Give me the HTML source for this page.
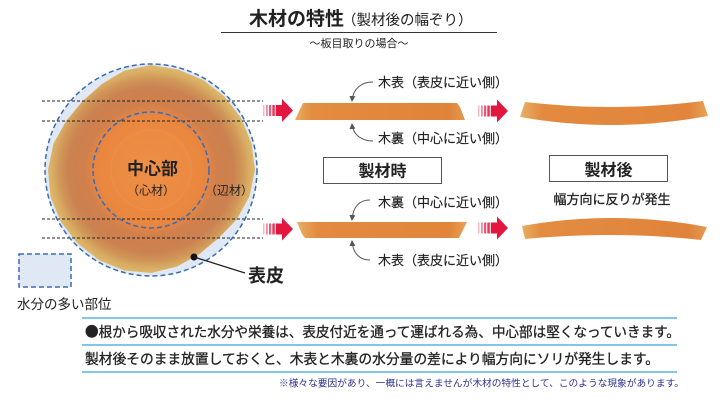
<!DOCTYPE html>
<html><head><meta charset="utf-8"><style>
html,body{margin:0;padding:0;background:#fff;}
svg{display:block;}
text{font-family:"Liberation Sans","Noto Sans CJK JP",sans-serif;fill:#222;}
</style></head><body>
<svg width="720" height="405" viewBox="0 0 720 405" xmlns="http://www.w3.org/2000/svg">
<defs>
<radialGradient id="wood" cx="151" cy="170" r="105" gradientUnits="userSpaceOnUse">
<stop offset="0" stop-color="#ee9048"/>
<stop offset="0.5" stop-color="#ea873e"/>
<stop offset="0.56" stop-color="#e08446"/>
<stop offset="0.63" stop-color="#d0804c"/>
<stop offset="0.78" stop-color="#cb8150"/>
<stop offset="0.87" stop-color="#d09658"/>
<stop offset="0.93" stop-color="#d8ab62"/>
<stop offset="1" stop-color="#ddbc70"/>
</radialGradient>
<linearGradient id="pl1" x1="0" x2="1" y1="0" y2="0">
<stop offset="0" stop-color="#e8ae5e"/>
<stop offset="0.1" stop-color="#e38c42"/>
<stop offset="0.9" stop-color="#e0833a"/>
<stop offset="1" stop-color="#e39a52"/>
</linearGradient>
<linearGradient id="pl2" x1="0" x2="1" y1="0" y2="0">
<stop offset="0" stop-color="#e6b066"/>
<stop offset="0.12" stop-color="#e38a40"/>
<stop offset="0.9" stop-color="#e2853b"/>
<stop offset="1" stop-color="#e6a458"/>
</linearGradient>
<g id="arr">
<rect x="0" y="-5.5" width="1.5" height="11" fill="#e3163f" opacity=".3"/>
<rect x="3" y="-5.5" width="1.8" height="11" fill="#e3163f" opacity=".5"/>
<rect x="6" y="-5.5" width="2.2" height="11" fill="#e3163f" opacity=".7"/>
<rect x="9.3" y="-5.5" width="2.5" height="11" fill="#e3163f" opacity=".85"/>
<rect x="12.8" y="-5.5" width="7" height="11" fill="#e3163f"/>
<polygon points="19,-11.5 30,0 19,11.5" fill="#e3163f"/>
</g>
<marker id="ah" markerWidth="6" markerHeight="6" refX="5" refY="3" orient="auto" markerUnits="userSpaceOnUse">
<path d="M0,0 L6,3 L0,6 Z" fill="#555"/>
</marker>
</defs>

<!-- Title -->
<text x="249" y="25" font-size="19" font-weight="bold">木材の特性</text>
<text x="342" y="25" font-size="14.5">（製材後の幅ぞり）</text>
<line x1="221" y1="32.5" x2="497" y2="32.5" stroke="#333" stroke-width="1"/>
<text x="359" y="47" font-size="11" text-anchor="middle">～板目取りの場合～</text>

<!-- Log -->
<circle cx="151" cy="170" r="106" fill="#dfe8f4"/>
<path d="M255,170 L251.5,143.1 L241.1,118 L224.5,96.5 L203,79.9 L177.9,69.5 L151,65 L124.3,70.5 L101.5,84.3 L82.4,101.4 L66.1,121 L53.4,143.8 L48,170 L50.5,196.9 L60.9,222 L77.5,243.5 L99,260.1 L124.1,270.5 L151,273 L176.9,266.6 L199.5,254 L218.9,237.9 L236.7,219.5 L249.5,196.4 Z" fill="url(#wood)"/>
<circle cx="151" cy="170" r="74" fill="none" stroke="#c9834e" stroke-width="1" opacity=".35"/>
<circle cx="151" cy="170" r="40" fill="none" stroke="#f0a060" stroke-width="1" opacity=".35"/>

<!-- dashed cut lines -->
<g stroke="#222" stroke-width="1" stroke-dasharray="3,2">
<line x1="42" y1="101" x2="263" y2="101"/>
<line x1="42" y1="121" x2="263" y2="121"/>
<line x1="42" y1="219" x2="263" y2="219"/>
<line x1="42" y1="238" x2="263" y2="238"/>
</g>
<circle cx="151" cy="170" r="106" fill="none" stroke="#3a6cb4" stroke-width="1.5" stroke-dasharray="5,3"/>
<circle cx="151" cy="170" r="58" fill="none" stroke="#3a6cb4" stroke-width="1.5" stroke-dasharray="5,3"/>

<text x="127" y="174.5" font-size="17" font-weight="bold">中心部</text>
<text x="127" y="194.5" font-size="12">（心材）</text>
<text x="205" y="194.5" font-size="12">（辺材）</text>

<circle cx="194" cy="257" r="3.5" fill="#111"/>
<line x1="194" y1="257" x2="245" y2="273" stroke="#222" stroke-width="1.2"/>
<text x="248" y="282" font-size="18" font-weight="bold">表皮</text>

<!-- legend -->
<rect x="19" y="254" width="52" height="33" fill="#dfe8f4" stroke="#3a6cb4" stroke-width="1.5" stroke-dasharray="5,3"/>
<text x="17" y="309" font-size="13.5">水分の多い部位</text>

<!-- arrows -->
<use href="#arr" transform="translate(263,110.5)"/>
<use href="#arr" transform="translate(263,229)"/>
<use href="#arr" transform="translate(478,111)"/>
<use href="#arr" transform="translate(478,228)"/>

<!-- flat planks -->
<path d="M295,120 L303,103 L457,103 L460,107 L465,120 Z" fill="url(#pl1)"/>
<path d="M297,222 L467,222 L459,238 L305,238 L302,234 Z" fill="url(#pl2)"/>

<!-- labels -->
<text x="378" y="87" font-size="13" stroke="#222" stroke-width="0.15">木表（表皮に近い側）</text>
<text x="378" y="143" font-size="13" stroke="#222" stroke-width="0.15">木裏（中心に近い側）</text>
<text x="378" y="207" font-size="13" stroke="#222" stroke-width="0.15">木裏（中心に近い側）</text>
<text x="378" y="265" font-size="13" stroke="#222" stroke-width="0.15">木表（表皮に近い側）</text>
<g fill="none" stroke="#555" stroke-width="1">
<path d="M373,82 C362,82 353,88 352,101" marker-end="url(#ah)"/>
<path d="M373,141 C362,141 353,135 352,124" marker-end="url(#ah)"/>
<path d="M370,200 C360,200 353,206 352,220" marker-end="url(#ah)"/>
<path d="M370,260 C360,260 353,254 352,241" marker-end="url(#ah)"/>
</g>

<!-- boxes -->
<rect x="323.5" y="157.5" width="118" height="26" fill="#fff" stroke="#555" stroke-width="1"/>
<text x="382.5" y="176.5" font-size="16" font-weight="bold" text-anchor="middle">製材時</text>
<rect x="549.5" y="155.5" width="118" height="26" fill="#fff" stroke="#555" stroke-width="1"/>
<text x="608.5" y="175.5" font-size="16" font-weight="bold" text-anchor="middle">製材後</text>
<text x="612" y="204" font-size="13" text-anchor="middle" stroke="#222" stroke-width="0.3">幅方向に反りが発生</text>

<!-- curved planks -->
<path d="M525,102 Q614,112.5 703,101 L708,116 Q614,133.5 520,117 Z" fill="url(#pl2)"/>
<path d="M522,226 Q614,209.5 707,227 L701,240 Q614,230.5 525,239 Z" fill="url(#pl1)"/>

<!-- bottom text -->
<g stroke="#5ab4e0" stroke-width="1.5">
<line x1="82" y1="318" x2="677" y2="318"/>
<line x1="82" y1="345" x2="677" y2="345"/>
<line x1="82" y1="372" x2="677" y2="372"/>
</g>
<text x="85" y="337" font-size="14" textLength="595" lengthAdjust="spacingAndGlyphs" stroke="#222" stroke-width="0.3" style="font-family:'Noto Sans CJK JP','Liberation Sans',sans-serif">●根から吸収された水分や栄養は、表皮付近を通って運ばれる為、中心部は堅くなっていきます。</text>
<text x="85" y="364" font-size="14" textLength="574" lengthAdjust="spacingAndGlyphs" stroke="#222" stroke-width="0.3">製材後そのまま放置しておくと、木表と木裏の水分量の差により幅方向にソリが発生します。</text>
<text x="279" y="386.5" font-size="9.5" textLength="405" lengthAdjust="spacingAndGlyphs" style="fill:#2b2f8f">※様々な要因があり、一概には言えませんが木材の特性として、このような現象があります。</text>
</svg>
</body></html>
